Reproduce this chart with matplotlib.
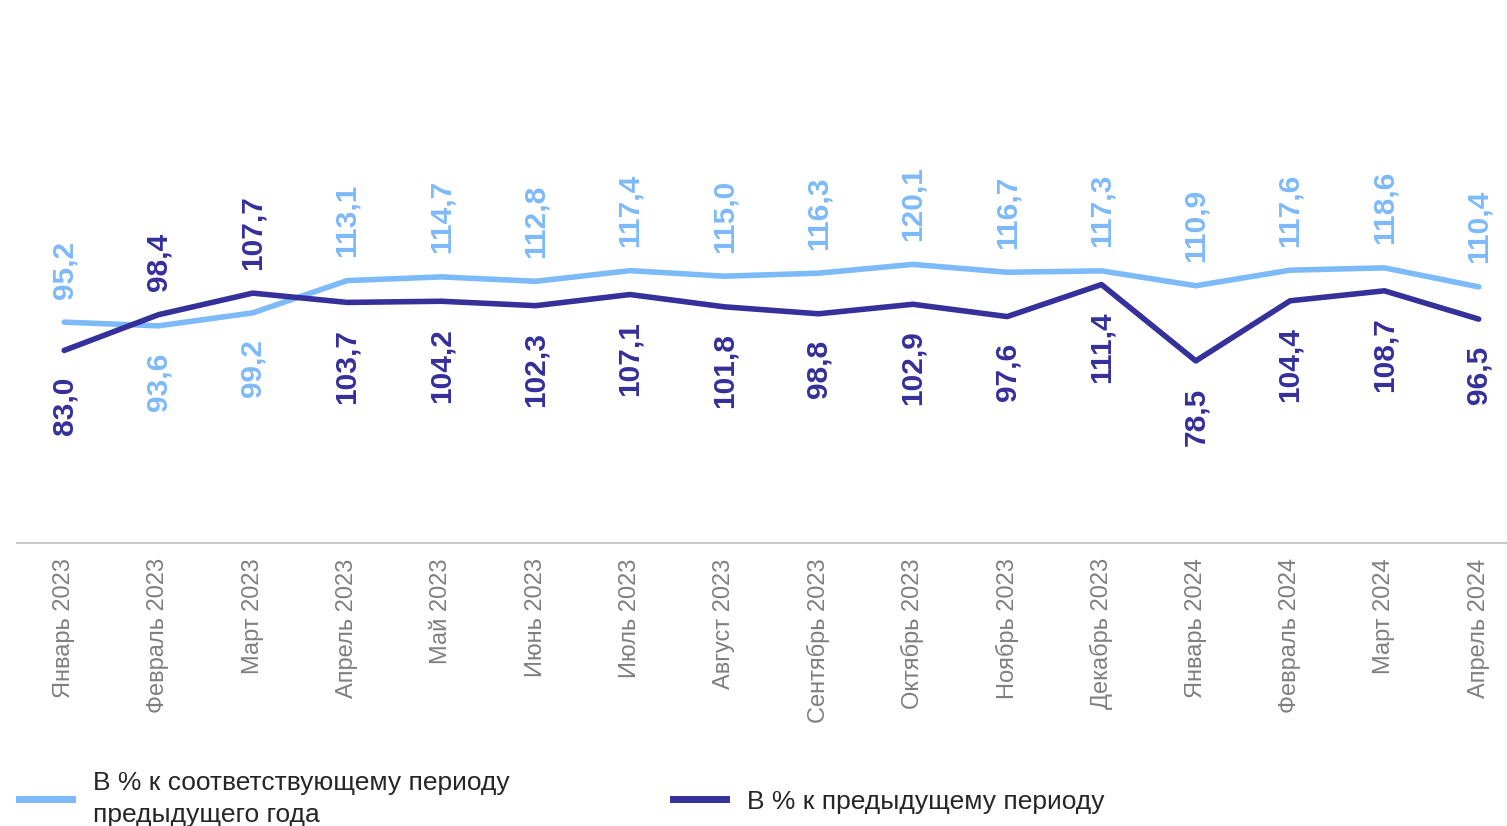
import matplotlib.pyplot as plt

plt.rcParams['font.family'] = ['Liberation Sans', 'DejaVu Sans']

months = ['Январь 2023', 'Февраль 2023', 'Март 2023', 'Апрель 2023', 'Май 2023',
          'Июнь 2023', 'Июль 2023', 'Август 2023', 'Сентябрь 2023', 'Октябрь 2023',
          'Ноябрь 2023', 'Декабрь 2023', 'Январь 2024', 'Февраль 2024', 'Март 2024',
          'Апрель 2024']
yoy = [95.2, 93.6, 99.2, 113.1, 114.7, 112.8, 117.4, 115.0, 116.3, 120.1,
       116.7, 117.3, 110.9, 117.6, 118.6, 110.4]
mom = [83.0, 98.4, 107.7, 103.7, 104.2, 102.3, 107.1, 101.8, 98.8, 102.9,
       97.6, 111.4, 78.5, 104.4, 108.7, 96.5]
# labels placed on the opposite side where lines cross
yoy_below = [1, 2]
mom_above = [1, 2]

light = '#7DBAFA'
dark = '#35309A'

fig = plt.figure(figsize=(15.07, 8.26), dpi=100)
ax = fig.add_axes([17 / 1507, 1 - 543 / 826, 1 - 17 / 1507, (543 - 79) / 826])

x = list(range(len(months)))
ax.plot(x, yoy, color=light, lw=4, solid_capstyle='round')
ax.plot(x, mom, color=dark, lw=4, solid_capstyle='round')

def fmt(v):
    return f'{v:.1f}'.replace('.', ',')

for i in x:
    if i in yoy_below:
        ax.annotate(fmt(yoy[i]), (i, yoy[i]), xytext=(0, -19), textcoords='offset points',
                    rotation=90, ha='center', va='top', color=light, fontsize=21.5, fontweight='bold')
    else:
        ax.annotate(fmt(yoy[i]), (i, yoy[i]), xytext=(0, 17), textcoords='offset points',
                    rotation=90, ha='center', va='bottom', color=light, fontsize=21.5, fontweight='bold')
    if i in mom_above:
        ax.annotate(fmt(mom[i]), (i, mom[i]), xytext=(0, 17), textcoords='offset points',
                    rotation=90, ha='center', va='bottom', color=dark, fontsize=21.5, fontweight='bold')
    else:
        ax.annotate(fmt(mom[i]), (i, mom[i]), xytext=(0, -19), textcoords='offset points',
                    rotation=90, ha='center', va='top', color=dark, fontsize=21.5, fontweight='bold')

ax.set_xlim(-0.5, 15.3)
ax.set_ylim(0, 200)
ax.set_xticks(x)
ax.set_xticklabels(months, rotation=90, color='#7F7F7F', fontsize=17)
ax.tick_params(axis='x', length=0, pad=11)
ax.set_yticks([])
for s in ['top', 'right', 'left']:
    ax.spines[s].set_visible(False)
ax.spines['bottom'].set_color('#BFBFBF')
ax.spines['bottom'].set_linewidth(1.2)

h1, = ax.plot([], [], color=light, lw=5)
h2, = ax.plot([], [], color=dark, lw=5)
leg = fig.legend([h1, h2], ['В % к соответствующему периоду\nпредыдущего года', 'В % к предыдущему периоду'],
                 loc='lower left', bbox_to_anchor=(-0.003, -0.03), ncol=2, frameon=False,
                 fontsize=19, handlelength=2.0, handletextpad=0.8, columnspacing=6.2,
                 labelcolor='#262626')
leg.get_texts()[0].set_linespacing(1.4)

plt.savefig('out.png', dpi=100)
